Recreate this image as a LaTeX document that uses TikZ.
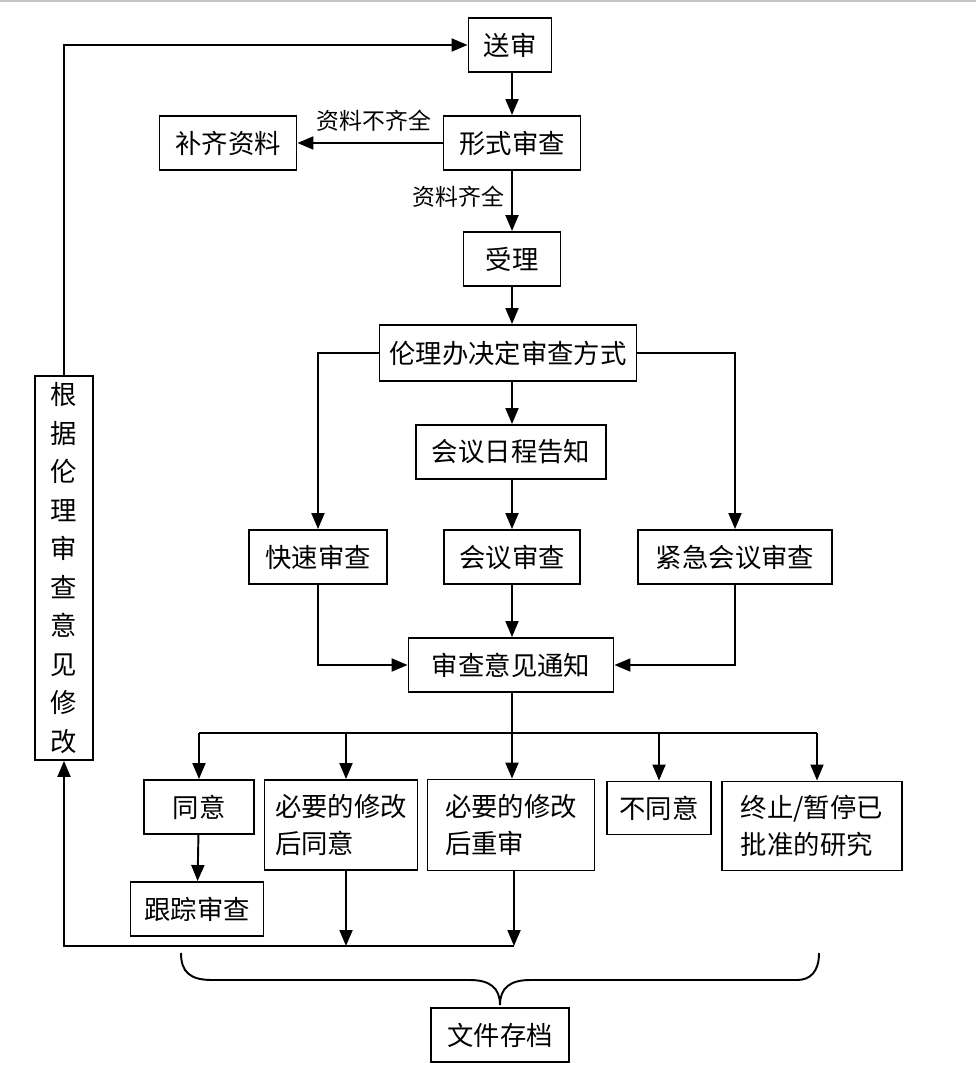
\documentclass[tikz,border=0pt]{standalone}
\usepackage{fontspec}
\setmainfont{Noto Sans CJK SC}
\usetikzlibrary{arrows.meta}
\begin{document}
\begin{tikzpicture}[x=0.02cm,y=-0.02cm,
  box/.style={draw, line width=1.1pt, inner sep=0pt, minimum height=1.08cm, font=\fontsize{15}{21}\selectfont},
  lbl/.style={font=\fontsize{13}{15}\selectfont, inner sep=1pt},
  arr/.style={line width=1.1pt, -{Triangle[length=0.32cm,width=0.26cm]}},
  ln/.style={line width=1.1pt}]
\useasboundingbox (0,0) rectangle (976,1088);
\draw[gray!45, line width=1pt] (0,1) -- (976,1);
% nodes
\node[box, minimum width=1.66cm] (send) at (510,45) {送审};
\node[box, minimum width=2.74cm] (form) at (512,143) {形式审查};
\node[box, minimum width=2.74cm] (supp) at (228,143) {补齐资料};
\node[box, minimum width=1.94cm] (acc) at (512,259) {受理};
\node[box, minimum width=5.14cm, minimum height=1.12cm] (decide) at (508,353) {伦理办决定审查方式};
\node[box, minimum width=3.8cm] (sched) at (511,452) {会议日程告知};
\node[box, minimum width=2.76cm] (fast) at (318,557) {快速审查};
\node[box, minimum width=2.72cm] (meet) at (512,557) {会议审查};
\node[box, minimum width=3.88cm] (urg) at (735,557) {紧急会议审查};
\node[box, minimum width=4.1cm] (notice) at (511,665) {审查意见通知};
\node[box, minimum width=2.2cm] (agree) at (199,807) {同意};
\node[box, minimum width=2.66cm] (track) at (197,909) {跟踪审查};
\node[box, minimum width=3.06cm, minimum height=1.8cm, align=left] (rev1) at (341,825) {必要的修改\\后同意};
\node[box, minimum width=3.34cm, minimum height=1.82cm, align=left] (rev2) at (511,825) {必要的修改\\后重审};
\node[box, minimum width=2.08cm, minimum height=1.06cm] (dis) at (659,808) {不同意};
\node[box, minimum width=3.6cm, minimum height=1.78cm, align=left] (stop) at (812,826) {终止/暂停已\\批准的研究};
\node[box, minimum width=1.16cm, minimum height=7.68cm, align=center, font=\fontsize{15}{21.9}\selectfont] (fix) at (64,568) {根\\据\\伦\\理\\审\\查\\意\\见\\修\\改};
\node[box, minimum width=2.76cm] (arch) at (500,1035) {文件存档};
% labels
\node[lbl] (l1) at (374,121) {资料不齐全};
\node[lbl, anchor=east] (l2) at (506,197) {资料齐全};
% connectors
\coordinate (cx) at (512,0);
\draw[arr] (cx |- send.south) -- (cx |- form.north);
\draw[arr] (form) -- (supp);
\draw[arr] (cx |- form.south) -- (cx |- acc.north);
\draw[arr] (cx |- acc.south) -- (cx |- decide.north);
\draw[arr] (cx |- decide.south) -- (cx |- sched.north);
\draw[arr] (decide.west) -| (fast.north);
\draw[arr] (decide.east) -| (urg.north);
\draw[arr] (cx |- sched.south) -- (cx |- meet.north);
\draw[arr] (cx |- meet.south) -- (cx |- notice.north);
\draw[arr] (fast.south) |- (notice.west);
\draw[arr] (urg.south) |- (notice.east);
\coordinate (br) at (512,733);
\coordinate (r1) at (346,0);
\coordinate (st) at (817,0);
\draw[ln] (cx |- notice.south) -- (br);
\draw[ln] (agree.north |- br) -- (st |- br);
\draw[arr] (agree.north |- br) -- (agree.north);
\draw[arr] (r1 |- br) -- (r1 |- rev1.north);
\draw[arr] (cx |- br) -- (cx |- rev2.north);
\draw[arr] (dis.north |- br) -- (dis.north);
\draw[arr] (st |- br) -- (st |- stop.north);
\draw[arr] (agree) -- (track);
\coordinate (bot) at (64,946);
\coordinate (r2) at (514,0);
\draw[arr] (r1 |- rev1.south) -- (r1 |- bot);
\draw[arr] (r2 |- rev2.south) -- (r2 |- bot);
\draw[arr] (r2 |- bot) -- (bot) -- (fix.south);
\draw[arr] (fix.north) |- (send.west);
% brace
\coordinate (tip) at (500,1005);
\draw[ln] (181,953) .. controls (181,972) and (190,980) .. (212,980) -- (470,980)
  .. controls (490,980) and (500,988) .. (tip)
  .. controls (500,988) and (510,980) .. (530,980) -- (797,980)
  .. controls (810,980) and (819,972) .. (819,953);
\end{tikzpicture}
\end{document}
